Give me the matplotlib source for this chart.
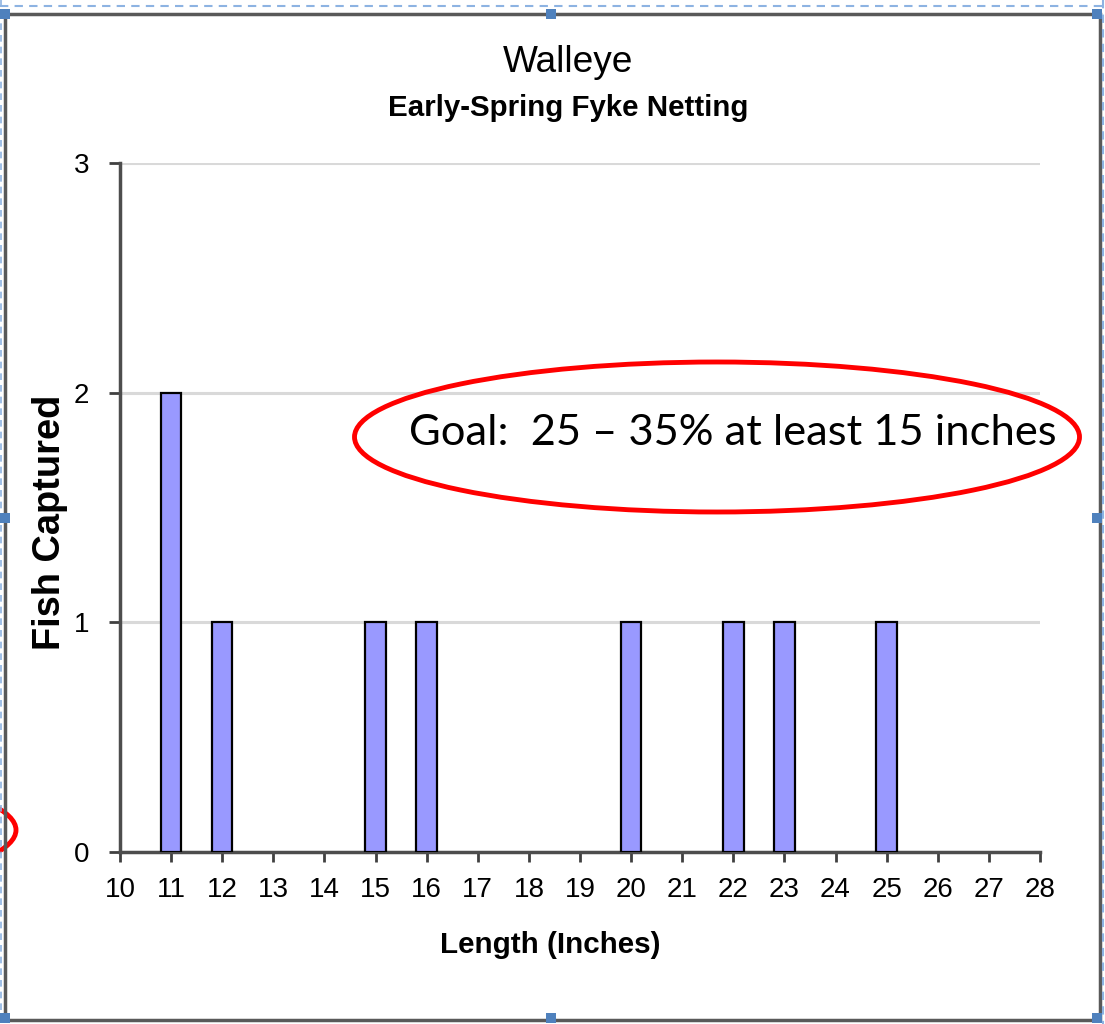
import matplotlib
matplotlib.use("Agg")
import matplotlib.pyplot as plt
from matplotlib.patches import Ellipse, Rectangle
from matplotlib.lines import Line2D
from matplotlib import font_manager

# ---- data ----
lengths = [11, 12, 15, 16, 20, 22, 23, 25]
counts = [2, 1, 1, 1, 1, 1, 1, 1]
x_ticks = list(range(10, 29))
y_ticks = [0, 1, 2, 3]
title = "Walleye"
subtitle = "Early-Spring Fyke Netting"
xlabel = "Length (Inches)"
ylabel = "Fish Captured"
goal_text = "Goal:  25 \u2013 35% at least 15 inches"

names = {f.name for f in font_manager.fontManager.ttflist}
narrow = "Liberation Sans Narrow" if "Liberation Sans Narrow" in names else "Liberation Sans"
goal_font = "Lato" if "Lato" in names else "DejaVu Sans"

W, H = 1105, 1024
fig = plt.figure(figsize=(W / 100, H / 100), dpi=100)
fig.patch.set_facecolor("white")

def fx(x):
    return x / W

def fy(y):
    return 1 - y / H

ax = fig.add_axes([fx(120), fy(852), (1040 - 120) / W, (852 - 163) / H])
ax.bar(lengths, counts, width=0.4, color="#9999ff", edgecolor="black", linewidth=1.6, zorder=3)
ax.set_xlim(10, 28)
ax.set_ylim(0, 3)
ax.set_xticks(x_ticks)
ax.set_yticks(y_ticks)
ax.set_xticklabels([str(v) for v in x_ticks], family=narrow, fontsize=20)
ax.set_yticklabels([str(v) for v in y_ticks], family=narrow, fontsize=20)
ax.tick_params(axis="x", direction="out", length=7, width=2, color="#404040", pad=11)
ax.tick_params(axis="y", direction="out", length=8, width=2, color="#404040", pad=14)
ax.yaxis.grid(True, color="#d9d9d9", linewidth=2.2, zorder=0)
ax.set_axisbelow(True)
for s in ["top", "right"]:
    ax.spines[s].set_visible(False)
for s in ["left", "bottom"]:
    ax.spines[s].set_color("#4d4d4d")
    ax.spines[s].set_linewidth(2.5)

r = fig.canvas.get_renderer()

def fit_w(t, target):
    w = t.get_window_extent(r).width
    t.set_fontsize(t.get_fontsize() * target / w)

def fit_h(t, target):
    h = t.get_window_extent(r).height
    t.set_fontsize(t.get_fontsize() * target / h)

t1 = fig.text(fx(568), fy(62), title, ha="center", va="center", family=narrow, fontsize=26)
fit_w(t1, 130)
t2 = fig.text(fx(568), fy(108), subtitle, ha="center", va="center", family=narrow,
              fontweight="bold", fontsize=22)
fit_w(t2, 360)
t3 = fig.text(fx(550), fy(945), xlabel, ha="center", va="center", family=narrow,
              fontweight="bold", fontsize=22)
fit_w(t3, 220)
t4 = fig.text(fx(50), fy(522), ylabel, ha="center", va="center", rotation=90,
              family="Liberation Sans", fontweight="bold", fontsize=22)
fit_h(t4, 255)

# goal annotation
fig.add_artist(Ellipse((fx(717), fy(437)), 725 / W, 150 / H, transform=fig.transFigure,
                       fill=False, edgecolor="#ff0000", linewidth=3.5, zorder=10))
t5 = fig.text(fx(733), fy(433), goal_text, ha="center", va="center", family=goal_font,
              fontsize=30, color="black", zorder=11)
fit_w(t5, 647)

# partial ellipse at left edge
fig.add_artist(Ellipse((fx(-340), fy(830)), 712 / W, 140 / H, transform=fig.transFigure,
                       fill=False, edgecolor="#ff0000", linewidth=3.5, zorder=10))

# chart frame and selection marks
fig.add_artist(Rectangle((fx(5), fy(1020)), (1100 - 5) / W, (1020 - 14) / H,
                         transform=fig.transFigure, fill=False, edgecolor="#595959",
                         linewidth=2.5, zorder=12))
fig.add_artist(Line2D([fx(0), fx(1105)], [fy(6), fy(6)], transform=fig.transFigure,
                      color="#8db3e2", linewidth=1.5, linestyle=(0, (4, 3)), zorder=12))
fig.add_artist(Line2D([fx(1103), fx(1103)], [fy(0), fy(1024)], transform=fig.transFigure,
                      color="#8db3e2", linewidth=1.5, linestyle=(0, (4, 3)), zorder=12))
fig.add_artist(Line2D([fx(1), fx(1)], [fy(0), fy(1024)], transform=fig.transFigure,
                      color="#8db3e2", linewidth=1.2, linestyle=(0, (4, 3)), zorder=12))
for hx, hy in [(5, 14), (551, 14), (1097, 14), (5, 518), (1097, 518),
               (5, 1018), (551, 1018), (1097, 1018)]:
    fig.add_artist(Rectangle((fx(hx - 5), fy(hy + 5)), 10 / W, 10 / H,
                             transform=fig.transFigure, facecolor="#4f81bd",
                             edgecolor="none", zorder=13))

fig.savefig("out.png", dpi=100)
